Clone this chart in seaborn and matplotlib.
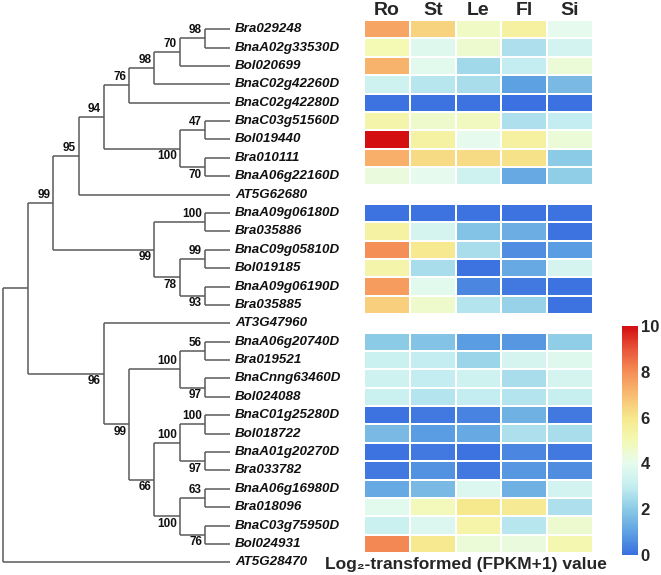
import numpy as np
import pandas as pd
import matplotlib
matplotlib.use("Agg")
import matplotlib.pyplot as plt
from matplotlib.colors import LinearSegmentedColormap
import seaborn as sns

sns.set_style("white")
plt.rcParams["font.family"] = ["Liberation Sans", "DejaVu Sans"]

# tree topology with bootstrap values (MEGA, topology only)
newick = ("(((((((((Bra029248,BnaA02g33530D)98,Bol020699)70,BnaC02g42260D)98,BnaC02g42280D)76,"
          "((BnaC03g51560D,Bol019440)47,(Bra010111,BnaA06g22160D)70)100)94,AT5G62680)95,"
          "((BnaA09g06180D,Bra035886)100,((BnaC09g05810D,Bol019185)99,(BnaA09g06190D,Bra035885)93)78)99)99,"
          "(AT3G47960,(((BnaA06g20740D,Bra019521)56,(BnaCnng63460D,Bol024088)97)100,"
          "(((BnaC01g25280D,Bol018722)100,(BnaA01g20270D,Bra033782)97)100,"
          "((BnaA06g16980D,Bra018096)63,(BnaC03g75950D,Bol024931)76)100)66)99)96),AT5G28470)")

genes = ["Bra029248", "BnaA02g33530D", "Bol020699", "BnaC02g42260D", "BnaC02g42280D",
         "BnaC03g51560D", "Bol019440", "Bra010111", "BnaA06g22160D", "AT5G62680",
         "BnaA09g06180D", "Bra035886", "BnaC09g05810D", "Bol019185", "BnaA09g06190D",
         "Bra035885", "AT3G47960", "BnaA06g20740D", "Bra019521", "BnaCnng63460D",
         "Bol024088", "BnaC01g25280D", "Bol018722", "BnaA01g20270D", "Bra033782",
         "BnaA06g16980D", "Bra018096", "BnaC03g75950D", "Bol024931", "AT5G28470"]

tissues = ["Ro", "St", "Le", "Fl", "Si"]
nan = np.nan
Ro = [7.5, 5.0, 7.2, 3.3, 0.1, 5.2, 10.0, 7.3, 4.3, nan, 0.1, 5.4, 8.0, 5.2, 7.7, 6.6, nan,
      2.0, 3.2, 3.3, 3.2, 0.1, 1.6, 0.1, 0.2, 1.2, 3.9, 3.2, 8.1, nan]
St = [6.5, 3.8, 3.9, 2.8, 0.1, 4.6, 5.4, 6.3, 4.0, nan, 0.1, 3.5, 5.9, 2.5, 3.9, 4.6, nan,
      1.8, 3.0, 3.0, 2.7, 0.2, 0.9, 0.2, 0.7, 1.6, 4.9, 3.7, 5.9, nan]
Le = [4.7, 4.5, 2.4, 2.5, 0.1, 4.8, 4.0, 6.3, 3.3, nan, 0.1, 1.8, 2.5, 0.1, 0.5, 2.7, nan,
      0.9, 2.3, 3.3, 3.0, 0.4, 1.2, 0.1, 0.2, 3.7, 6.0, 5.3, 4.4, nan]
Fl = [5.5, 2.6, 3.0, 1.0, 0.05, 2.6, 5.5, 6.1, 1.2, nan, 0.1, 1.3, 0.6, 1.2, 0.2, 2.2, nan,
      0.8, 3.5, 2.5, 2.7, 1.4, 2.6, 0.5, 0.8, 1.4, 5.8, 2.8, 4.3, nan]
Si = [4.0, 3.4, 4.4, 1.6, 0.05, 3.0, 4.4, 2.0, 2.1, nan, 0.1, 0.1, 0.9, 3.5, 0.1, 0.1, nan,
      2.1, 3.8, 3.5, 3.1, 0.2, 2.5, 0.2, 0.6, 3.4, 2.6, 4.5, 5.1, nan]

cmap_colors = ["#3a6fe0", "#5fa2e2", "#8ccbe6", "#c4eef0", "#e6fbee", "#f4f9b4",
               "#f6e88c", "#f8bd72", "#f58f58", "#e8553a", "#d40f10"]


def parse(s, i=0):
    if s[i] == "(":
        kids = []
        i += 1
        while True:
            node, i = parse(s, i)
            kids.append(node)
            if s[i] == ",":
                i += 1
                continue
            i += 1
            break
        j = i
        while i < len(s) and s[i] not in ",();":
            i += 1
        return {"kids": kids, "bs": s[j:i]}, i
    j = i
    while s[i] not in ",();":
        i += 1
    return {"name": s[j:i]}, i


tree, _ = parse(newick)
order = []


def layout(node):
    if "name" in node:
        node["y"] = len(order) + 0.5
        node["h"] = 0
        order.append(node["name"])
        return
    for k in node["kids"]:
        layout(k)
    node["h"] = 1 + max(k["h"] for k in node["kids"])
    node["y"] = (node["kids"][0]["y"] + node["kids"][-1]["y"]) / 2


layout(tree)
nlev = tree["h"]

fig = plt.figure(figsize=(6.61, 5.75), dpi=100)
bot, hgt = 0.0061, 0.9591
ax_t = fig.add_axes([0, bot, 364 / 661, hgt])
ax_h = fig.add_axes([364 / 661, bot, 229 / 661, hgt])
ax_c = fig.add_axes([622 / 661, 0.0348, 16 / 661, 0.398])

# tree
lc = "#5a5a5a"


def draw(node):
    x = nlev - node["h"]
    if "name" in node:
        ax_t.text(x + 0.2, node["y"], node["name"], fontsize=9.6, fontweight="bold",
                  fontstyle="italic", va="center", ha="left", color="#111111")
        return
    kids = node["kids"]
    ax_t.plot([x, x], [kids[0]["y"], kids[-1]["y"]], color=lc, lw=1.1, solid_capstyle="butt")
    for n, k in enumerate(kids):
        kx = nlev - k["h"] if "name" not in k else nlev
        ax_t.plot([x, kx], [k["y"], k["y"]], color=lc, lw=1.1, solid_capstyle="butt")
        if "kids" in k and k["bs"]:
            if n == 0:
                ax_t.text(kx - 0.12, k["y"] - 0.12, k["bs"], fontsize=8.5, fontweight="bold",
                          ha="right", va="bottom", color="#111111")
            else:
                ax_t.text(kx - 0.12, k["y"] + 0.08, k["bs"], fontsize=8.5, fontweight="bold",
                          ha="right", va="top", color="#111111")
        draw(k)


draw(tree)
ax_t.set_xlim(-0.119, 14.3)
ax_t.set_ylim(len(order), 0)
ax_t.axis("off")

# heatmap
df = pd.DataFrame({"Ro": Ro, "St": St, "Le": Le, "Fl": Fl, "Si": Si}, index=genes)[tissues]
cmap = LinearSegmentedColormap.from_list("expr", cmap_colors)
sns.heatmap(df, ax=ax_h, cmap=cmap, vmin=0, vmax=10, linewidths=1.2, linecolor="white",
            cbar_ax=ax_c, yticklabels=False)
ax_h.set_ylim(len(genes), 0)
ax_h.xaxis.tick_top()
ax_h.tick_params(axis="x", length=0, pad=1)
for t in ax_h.get_xticklabels():
    t.set_fontsize(14)
    t.set_fontweight("bold")
    t.set_rotation(0)
ax_h.set_xlabel("")
ax_h.set_ylabel("")

cbar = ax_h.collections[0].colorbar
cbar.outline.set_visible(False)
cbar.set_ticks([0, 2, 4, 6, 8, 10])
ax_c.tick_params(length=0, labelsize=12, pad=2)
for t in ax_c.get_yticklabels():
    t.set_fontweight("bold")

fig.text(466 / 661, 1 - 565 / 575, "Log₂-transformed (FPKM+1) value", ha="center", va="center",
         fontsize=12.5, fontweight="bold")

fig.savefig("out.png", dpi=100)
